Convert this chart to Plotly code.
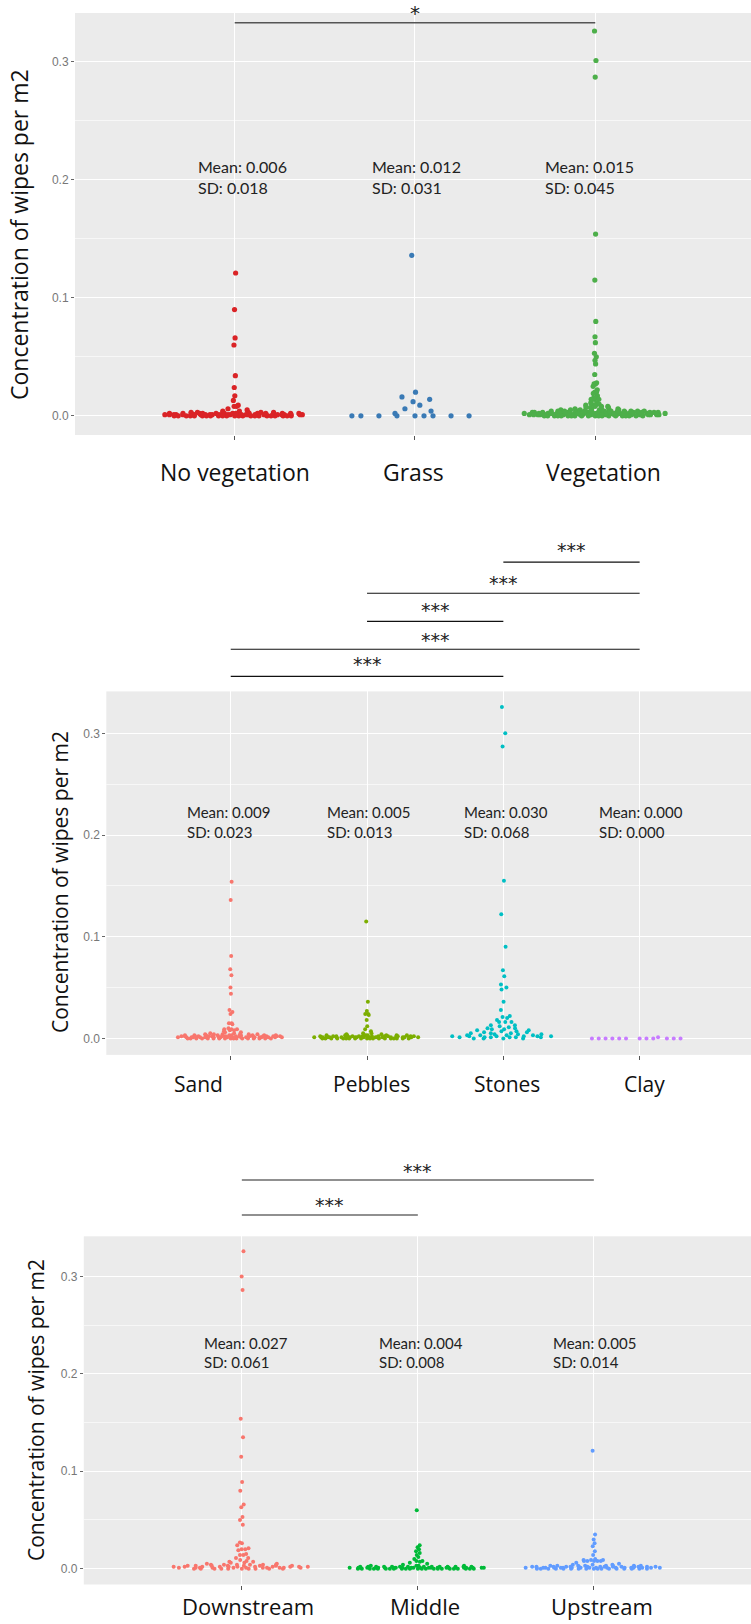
import numpy as np
import plotly.graph_objects as go

W, H = 751, 1624

# ---------------- DATA ----------------
veg_cats = ["No vegetation", "Grass", "Vegetation"]
no_vegetation = [0.121, 0.090, 0.066, 0.060, 0.034, 0.024, 0.017, 0.013, 0.009, 0.008, 0.008, 0.006,
                 0.000, 0.001, 0.002, 0.000, 0.001, 0.003, 0.000, 0.002, 0.001, 0.000, 0.004, 0.001, 0.000, 0.002, 0.001,
                 0.000, 0.001, 0.003, 0.000, 0.002, 0.001, 0.000, 0.001, 0.005, 0.000, 0.002, 0.001, 0.000, 0.003, 0.001,
                 0.001, 0.002, 0.001, 0.000, 0.001, 0.004, 0.000, 0.002, 0.001, 0.000, 0.003, 0.001, 0.000, 0.002, 0.001,
                 0.000, 0.001, 0.002, 0.000, 0.001, 0.003, 0.001, 0.002, 0.001, 0.000, 0.002, 0.001, 0.000, 0.002, 0.001,
                 0.000, 0.001, 0.003, 0.000, 0.002, 0.001, 0.000, 0.001, 0.002, 0.000, 0.002, 0.001, 0.000, 0.001, 0.001]
grass = [0.136, 0.020, 0.016, 0.014, 0.012, 0.009, 0.006, 0.004, 0.002,
         0.000, 0.000, 0.000, 0.000, 0.000, 0.000, 0.000, 0.000, 0.000]
vegetation = [0.326, 0.301, 0.287, 0.154, 0.115, 0.080, 0.067, 0.062, 0.053, 0.050, 0.047, 0.044, 0.035,
              0.028, 0.025, 0.022, 0.020, 0.017, 0.014,
              0.027, 0.027, 0.020, 0.019, 0.015, 0.014, 0.015, 0.014, 0.011, 0.011, 0.010, 0.010, 0.009, 0.009,
              0.008, 0.008, 0.008, 0.007, 0.007, 0.007, 0.006, 0.006, 0.006, 0.006, 0.005, 0.005, 0.005, 0.005,
              0.005, 0.005,
              0.001, 0.000, 0.003, 0.002, 0.001, 0.004, 0.000, 0.002, 0.003, 0.001, 0.000, 0.002, 0.004, 0.001, 0.003,
              0.002, 0.000, 0.001, 0.003, 0.002, 0.004, 0.001, 0.000, 0.002, 0.003, 0.001, 0.004, 0.002, 0.000, 0.001,
              0.003, 0.002, 0.001, 0.000, 0.004, 0.002, 0.001, 0.003, 0.000, 0.002, 0.001, 0.004, 0.003, 0.002, 0.000,
              0.001, 0.002, 0.004, 0.003, 0.000, 0.001, 0.002, 0.003, 0.001, 0.000, 0.004, 0.002, 0.001, 0.003, 0.002,
              0.000, 0.001, 0.003, 0.002, 0.004, 0.001, 0.000, 0.002, 0.003, 0.001, 0.002, 0.000, 0.004, 0.003, 0.001,
              0.002, 0.003, 0.000, 0.001, 0.002, 0.004, 0.003, 0.001, 0.000, 0.002, 0.003, 0.001, 0.002, 0.004, 0.000,
              0.001, 0.002, 0.003, 0.000, 0.001, 0.004, 0.002, 0.003, 0.001, 0.000, 0.002, 0.001, 0.003, 0.002, 0.001,
              0.000, 0.002, 0.001, 0.003, 0.001, 0.002]
veg_mean = ["0.006", "0.012", "0.015"]
veg_sd = ["0.018", "0.031", "0.045"]

sub_cats = ["Sand", "Pebbles", "Stones", "Clay"]
sand = [0.154, 0.136, 0.081, 0.068, 0.062, 0.050, 0.044, 0.028, 0.026, 0.024, 0.014, 0.010,
        0.015, 0.015, 0.009, 0.009, 0.009, 0.008, 0.008, 0.007, 0.006, 0.006, 0.005, 0.005,
        0.001, 0.000, 0.002, 0.003, 0.001, 0.000, 0.004, 0.002, 0.001, 0.003, 0.000, 0.002, 0.001, 0.004,
        0.002, 0.001, 0.000, 0.003, 0.002, 0.001, 0.000, 0.002, 0.004, 0.001, 0.003, 0.000, 0.002, 0.001,
        0.000, 0.003, 0.001, 0.002, 0.000, 0.001, 0.004, 0.002, 0.000, 0.001, 0.003, 0.002, 0.001, 0.000,
        0.002, 0.001, 0.003, 0.000, 0.002, 0.001, 0.004, 0.000, 0.001, 0.002, 0.003, 0.001, 0.000, 0.002,
        0.001, 0.003, 0.000, 0.002, 0.001, 0.000, 0.004, 0.002, 0.001, 0.003, 0.000, 0.001, 0.002, 0.001,
        0.000]
pebbles = [0.115, 0.036, 0.027, 0.023, 0.018, 0.012, 0.009, 0.007,
           0.024, 0.024, 0.005, 0.005, 0.004, 0.004,
           0.001, 0.000, 0.002, 0.001, 0.000, 0.003, 0.001, 0.002, 0.000, 0.001, 0.002, 0.000, 0.001, 0.003,
           0.002, 0.001, 0.000, 0.001, 0.002, 0.000, 0.003, 0.001, 0.000, 0.002, 0.001, 0.000, 0.001, 0.002,
           0.000, 0.001, 0.003, 0.002, 0.000, 0.001, 0.002, 0.001, 0.000, 0.003, 0.001, 0.002, 0.000, 0.001,
           0.002, 0.000, 0.001, 0.003, 0.001, 0.000, 0.002, 0.001, 0.000, 0.002, 0.001, 0.003, 0.000, 0.001,
           0.002, 0.001, 0.000, 0.001, 0.002, 0.000, 0.001, 0.003, 0.001, 0.000]
stones = [0.326, 0.300, 0.287, 0.155, 0.122, 0.090, 0.067, 0.061, 0.053, 0.050, 0.048, 0.036, 0.028,
          0.020, 0.018, 0.016, 0.013,
          0.022, 0.016, 0.021, 0.016, 0.013, 0.012, 0.011, 0.010, 0.010, 0.009, 0.009, 0.008, 0.008,
          0.007, 0.007, 0.006, 0.006, 0.005, 0.005, 0.005,
          0.002, 0.000, 0.003, 0.001, 0.004, 0.002, 0.000, 0.003, 0.001, 0.002, 0.004, 0.001,
          0.000, 0.003, 0.002, 0.001, 0.004, 0.002, 0.000, 0.003, 0.001, 0.002, 0.001]
clay = [0.000, 0.000, 0.000, 0.000, 0.000, 0.001, 0.000, 0.000, 0.000, 0.000, 0.000, 0.000, 0.000]
sub_mean = ["0.009", "0.005", "0.030", "0.000"]
sub_sd = ["0.023", "0.013", "0.068", "0.000"]

loc_cats = ["Downstream", "Middle", "Upstream"]
downstream = [0.326, 0.300, 0.286, 0.154, 0.135, 0.115, 0.089, 0.080, 0.066, 0.063, 0.053, 0.050, 0.045,
              0.026, 0.024, 0.021, 0.019,
              0.027, 0.020, 0.020, 0.015, 0.014, 0.014, 0.011, 0.011, 0.009, 0.008, 0.007, 0.007, 0.006, 0.006,
              0.002, 0.000, 0.003, 0.001, 0.004, 0.002, 0.000, 0.003, 0.001, 0.005, 0.002, 0.000, 0.004, 0.001,
              0.003, 0.002, 0.000, 0.001, 0.004, 0.002, 0.003, 0.000, 0.001, 0.002, 0.005, 0.001, 0.003, 0.000,
              0.002, 0.004, 0.001, 0.000, 0.003, 0.002, 0.001, 0.004, 0.000, 0.002, 0.003, 0.001, 0.000, 0.002,
              0.004, 0.001, 0.003, 0.000, 0.002, 0.001]
middle = [0.060, 0.024, 0.022, 0.020, 0.018, 0.016, 0.014, 0.012, 0.010,
          0.008, 0.008, 0.007, 0.006, 0.005, 0.004,
          0.001, 0.000, 0.002, 0.001, 0.000, 0.001, 0.002, 0.000, 0.001, 0.003, 0.000, 0.001, 0.002, 0.000,
          0.001, 0.000, 0.002, 0.001, 0.000, 0.001, 0.003, 0.000, 0.001, 0.002, 0.000, 0.001, 0.000, 0.002,
          0.001, 0.000, 0.001, 0.002, 0.000, 0.003, 0.001, 0.000, 0.001, 0.002, 0.000, 0.001, 0.000, 0.002,
          0.001, 0.000, 0.001, 0.002, 0.000, 0.001, 0.003, 0.000, 0.001, 0.002, 0.000, 0.001, 0.000, 0.002,
          0.001, 0.000, 0.001, 0.002, 0.000, 0.001, 0.000, 0.001, 0.002]
upstream = [0.121, 0.035, 0.030, 0.026, 0.023, 0.018, 0.014, 0.010,
            0.009, 0.009, 0.009, 0.008, 0.008, 0.008, 0.008, 0.008, 0.006, 0.005,
            0.001, 0.000, 0.002, 0.003, 0.001, 0.000, 0.002, 0.001, 0.004, 0.000, 0.002, 0.001, 0.003, 0.000,
            0.001, 0.002, 0.000, 0.003, 0.001, 0.002, 0.000, 0.001, 0.004, 0.002, 0.000, 0.001, 0.003, 0.002,
            0.000, 0.001, 0.002, 0.000, 0.003, 0.001, 0.000, 0.002, 0.001, 0.004, 0.000, 0.002, 0.001, 0.003,
            0.000, 0.001, 0.002, 0.000, 0.001, 0.003, 0.002, 0.000, 0.001, 0.002, 0.000, 0.001, 0.003, 0.001,
            0.000, 0.002, 0.001, 0.000, 0.002, 0.001]
loc_mean = ["0.027", "0.004", "0.005"]
loc_sd = ["0.061", "0.008", "0.014"]

# significance comparisons (category index pairs) and labels
veg_sig = [(0, 2, "*")]
sub_sig = [(2, 3, "***"), (1, 3, "***"), (1, 2, "***"), (0, 3, "***"), (0, 2, "***")]
loc_sig = [(0, 2, "***"), (0, 1, "***")]

y_ticks = [0.0, 0.1, 0.2, 0.3]
y_tick_text = ["0.0", "0.1", "0.2", "0.3"]

# ---------------- LAYOUT HELPERS ----------------
def py(px):
    return 1 - px / H


def vdc(n, base=2):
    out = []
    for i in range(1, n + 1):
        v, denom, k = 0.0, 1.0, i
        while k:
            k, rem = divmod(k, base)
            denom *= base
            v += rem / denom
        out.append(v)
    return np.array(out)


def quasirandom(vals, width=0.4, bw=0.002):
    y = np.asarray(vals, dtype=float)
    n = len(y)
    order = np.argsort(y, kind="stable")
    rank = np.empty(n, int)
    rank[order] = np.arange(n)
    q = vdc(n)[rank]
    d = np.exp(-0.5 * ((y[:, None] - y[None, :]) / bw) ** 2).sum(1)
    d = d / d.max()
    return (q - 0.5) * 2 * width * d


YR = [-0.01625, 0.34125]

panels = [
    dict(cats=veg_cats, data=[no_vegetation, grass, vegetation],
         colors=["#DA2326", "#3A7AB5", "#4DAF4A"], msize=5.2,
         xdom=[75 / W, 1], ydom=[py(435), py(13)], xr=[-0.886, 2.864],
         mean=veg_mean, sd=veg_sd, txt_dx=[-0.215, -0.25, -0.29], txt_y=[0.211, 0.193], txt_size=16,
         lab_dx=[0.004, -0.01, 0.045], lab_y=471.7, lab_size=23,
         ytitle_x=19, ytitle_y=235, ytitle_size=23,
         sig=veg_sig, sig_line_y=[22.7], sig_star_y=[12.7], sig_color="#555555", sig_w=1.6, star_size=20),
    dict(cats=sub_cats, data=[sand, pebbles, stones, clay],
         colors=["#F8766D", "#7CAE00", "#00BFC4", "#C77CFF"], msize=4,
         xdom=[106.3 / W, 1], ydom=[py(1054.9), py(691.4)], xr=[-0.913, 3.817],
         mean=sub_mean, sd=sub_sd, txt_dx=[-0.337, -0.31, -0.306, -0.316], txt_y=[0.223, 0.203], txt_size=15,
         lab_dx=[-0.235, 0.03, 0.024, 0.035], lab_y=1084, lab_size=21,
         ytitle_x=60, ytitle_y=882, ytitle_size=21,
         sig=sub_sig, sig_line_y=[562.1, 593.2, 621.4, 649.3, 676.4],
         sig_star_y=[549.6, 582.9, 609.6, 640.4, 664.3], sig_color="#111111", sig_w=1.1, star_size=19),
    dict(cats=loc_cats, data=[downstream, middle, upstream],
         colors=["#F8766D", "#00BA38", "#619CFF"], msize=4,
         xdom=[83.8 / W, 1], ydom=[py(1584.5), py(1236.3)], xr=[-0.898, 2.893],
         mean=loc_mean, sd=loc_sd, txt_dx=[-0.226, -0.234, -0.245], txt_y=[0.232, 0.212], txt_size=15,
         lab_dx=[0.035, 0.038, 0.046], lab_y=1606, lab_size=22,
         ytitle_x=36, ytitle_y=1410, ytitle_size=21,
         sig=loc_sig, sig_line_y=[1180, 1215], sig_star_y=[1171, 1205.4], sig_color="#222222", sig_w=1.1,
         star_size=19),
]

fig = go.Figure()
annotations = []
shapes = []
layout = {}

for i, p in enumerate(panels):
    sfx = "" if i == 0 else str(i + 1)
    xa, ya = "x" + sfx, "y" + sfx
    for k, (vals, col) in enumerate(zip(p["data"], p["colors"])):
        off = quasirandom(vals)
        fig.add_trace(go.Scatter(
            x=k + off, y=vals, mode="markers", xaxis=xa, yaxis=ya,
            marker=dict(color=col, size=p["msize"], line=dict(width=0)),
            showlegend=False, hoverinfo="skip"))
    n = len(p["cats"])
    layout["xaxis" + sfx] = dict(
        domain=p["xdom"], anchor=ya, range=p["xr"], tickvals=list(range(n)),
        showticklabels=False, ticks="outside", ticklen=4, tickcolor="#555555", tickwidth=1,
        showgrid=True, gridcolor="white", gridwidth=1.1, zeroline=False, showline=False, fixedrange=True)
    layout["yaxis" + sfx] = dict(
        domain=p["ydom"], anchor=xa, range=YR, tickvals=y_ticks, ticktext=y_tick_text,
        ticks="outside", ticklen=3, tickcolor="#666666", tickwidth=1,
        tickfont=dict(family="Liberation Sans", size=12, color="#777777"),
        showgrid=True, gridcolor="white", gridwidth=1.1, zeroline=False, showline=False,
        minor=dict(tickvals=[0.05, 0.15, 0.25], showgrid=True, gridcolor="#F7F7F7", gridwidth=0.6, ticks=""),
        fixedrange=True)

    # mean / sd texts
    for k in range(n):
        for line, yv in zip(["Mean: " + p["mean"][k], "SD: " + p["sd"][k]], p["txt_y"]):
            annotations.append(dict(
                x=k + p["txt_dx"][k], y=yv, xref=xa, yref=ya, text=line, showarrow=False,
                xanchor="left", yanchor="middle",
                font=dict(family="Lato", size=p["txt_size"], color="#222222")))
    # category labels
    for k, cat in enumerate(p["cats"]):
        annotations.append(dict(
            x=k + p["lab_dx"][k], y=py(p["lab_y"]), xref=xa, yref="paper", text=cat, showarrow=False,
            xanchor="center", yanchor="middle",
            font=dict(family="Open Sans", size=p["lab_size"], color="#111111")))
    # y title
    annotations.append(dict(
        x=p["ytitle_x"] / W, y=py(p["ytitle_y"]), xref="paper", yref="paper",
        text="Concentration of wipes per m2", textangle=-90, showarrow=False,
        xanchor="center", yanchor="middle",
        font=dict(family="Open Sans", size=p["ytitle_size"], color="#111111")))
    # significance bars
    for (a, b, lab), ly, sy in zip(p["sig"], p["sig_line_y"], p["sig_star_y"]):
        shapes.append(dict(type="line", xref=xa, yref="paper", x0=a, x1=b, y0=py(ly), y1=py(ly),
                           line=dict(color=p["sig_color"], width=p["sig_w"])))
        annotations.append(dict(
            x=(a + b) / 2, y=py(sy), xref=xa, yref="paper", text=lab, showarrow=False,
            xanchor="center", yanchor="middle",
            font=dict(family="DejaVu Sans", size=p["star_size"], color="#222222")))

fig.update_layout(
    width=W, height=H, margin=dict(l=0, r=0, t=0, b=0),
    paper_bgcolor="white", plot_bgcolor="#EBEBEB",
    annotations=annotations, shapes=shapes, showlegend=False, **layout)

fig.write_html("out.html", config={"displayModeBar": False})
